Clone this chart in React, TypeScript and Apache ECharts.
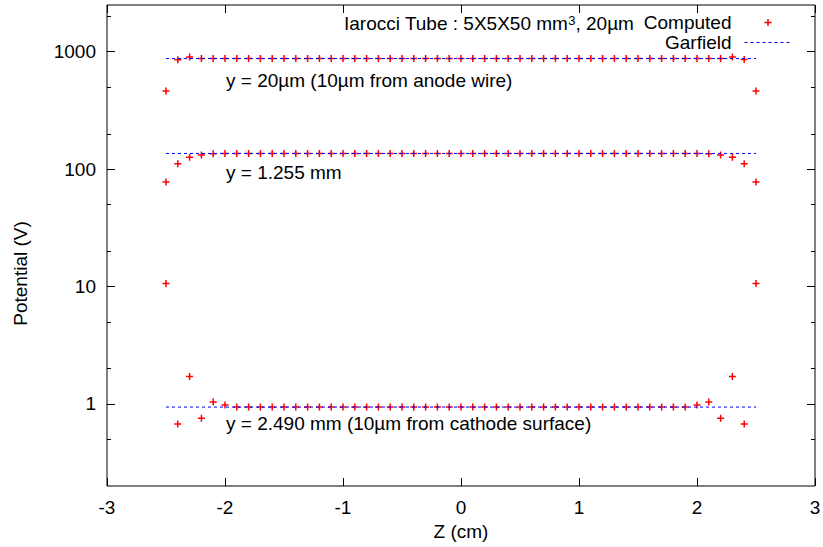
import React, { useEffect, useRef } from "react";
import * as echarts from "echarts";

// Z positions (cm) of the computed points
const zValues = [
  -2.5, -2.4, -2.3, -2.2, -2.1, -2.0, -1.9, -1.8, -1.7, -1.6, -1.5, -1.4, -1.3,
  -1.2, -1.1, -1.0, -0.9, -0.8, -0.7, -0.6, -0.5, -0.4, -0.3, -0.2, -0.1, 0.0,
  0.1, 0.2, 0.3, 0.4, 0.5, 0.6, 0.7, 0.8, 0.9, 1.0, 1.1, 1.2, 1.3, 1.4, 1.5,
  1.6, 1.7, 1.8, 1.9, 2.0, 2.1, 2.2, 2.3, 2.4, 2.5,
];

// Computed potential (V) at y = 20 µm
const computedAnode = [
  463, 855, 900, 875, 875, 875, 875, 875, 875, 875, 875, 875, 875,
  875, 875, 875, 875, 875, 875, 875, 875, 875, 875, 875, 875, 875,
  875, 875, 875, 875, 875, 875, 875, 875, 875, 875, 875, 875, 875, 875, 875,
  875, 875, 875, 875, 875, 875, 875, 900, 858, 463,
];

// Computed potential (V) at y = 1.255 mm
const computedMiddle = [
  77.5, 111, 126, 132, 135, 136, 136, 136, 136, 136, 136, 136, 136,
  136, 136, 136, 136, 136, 136, 136, 136, 136, 136, 136, 136, 136,
  136, 136, 136, 136, 136, 136, 136, 136, 136, 136, 136, 136, 136, 136, 136,
  136, 136, 136, 136, 136, 135, 132, 126, 111, 77.5,
];

// Computed potential (V) at y = 2.490 mm
const computedCathode = [
  10.6, 0.676, 1.71, 0.757, 1.04, 0.98, 0.94, 0.94, 0.94, 0.94, 0.94, 0.94, 0.94,
  0.94, 0.94, 0.94, 0.94, 0.94, 0.94, 0.94, 0.94, 0.94, 0.94, 0.94, 0.94, 0.94,
  0.94, 0.94, 0.94, 0.94, 0.94, 0.94, 0.94, 0.94, 0.94, 0.94, 0.94, 0.94, 0.94, 0.94, 0.94,
  0.94, 0.94, 0.94, 0.94, 0.98, 1.04, 0.757, 1.71, 0.676, 10.6,
];

// Garfield reference lines
const garfieldZ = [-2.5, 2.5];
const garfieldAnode = [875, 875];
const garfieldMiddle = [136, 136];
const garfieldCathode = [0.94, 0.94];

// Axis ticks
const xTickValues = [-3, -2, -1, 0, 1, 2, 3];
const yMajorTicks = [1, 10, 100, 1000];
const yMinorTicks = [0.5, 2, 5, 20, 50, 200, 500, 2000];

const FONT = '"Liberation Sans", Arial, Helvetica, sans-serif';
const FS = 19;
const PLUS = "path://M2.75,0 h1.5 v7 h-1.5 Z M0,2.75 h7 v1.5 h-7 Z";

const pairs = (xs: number[], ys: number[]) => xs.map((x, i) => [x, ys[i]]);

export default function App() {
  const ref = useRef<HTMLDivElement>(null);
  useEffect(() => {
    const chart = echarts.init(ref.current!, null, { renderer: "svg" });

    const tickColor = "#000";
    const noLine = { show: false, onZero: false };
    const yBase = {
      type: "log" as const,
      logBase: 10,
      min: 0.2,
      max: 2500,
      splitLine: { show: false },
      axisLine: noLine,
    };

    const option: any = {
      animation: false,
      backgroundColor: "#fff",
      textStyle: { fontFamily: FONT },
      grid: {
        left: 107,
        right: 8,
        top: 5,
        bottom: 61,
        show: true,
        borderColor: "#000",
        borderWidth: 1,
        containLabel: false,
        outerBoundsMode: "none",
      },
      legend: {
        orient: "vertical",
        align: "right",
        right: 31,
        top: 13,
        padding: 0,
        itemWidth: 47,
        itemHeight: 7,
        itemGap: 1,
        selectedMode: false,
        textStyle: {
          fontFamily: FONT,
          fontSize: FS,
          color: "#000",
          padding: [0, 8, 0, 0],
        },
        data: [
          { name: "Computed" },
          {
            name: "Garfield",
            itemStyle: { opacity: 0 },
            lineStyle: { color: "#0000ff", width: 1, type: [3, 3] },
          },
        ],
      },
      graphic: [
        {
          type: "text",
          x: 344,
          y: 23,
          style: {
            text: "Iarocci Tube : 5X5X50 mm{sup|3}, 20µm",
            font: `${FS}px ${FONT}`,
            fill: "#000",
            verticalAlign: "middle",
            rich: {
              sup: { fontSize: 13, fontFamily: FONT, verticalAlign: "top", lineHeight: 12, fill: "#000" },
            },
          },
        },
        {
          type: "text",
          x: 226,
          y: 80,
          style: {
            text: "y = 20µm (10µm from anode wire)",
            font: `${FS}px ${FONT}`,
            fill: "#000",
            verticalAlign: "middle",
          },
        },
        {
          type: "text",
          x: 226,
          y: 172,
          style: {
            text: "y = 1.255 mm",
            font: `${FS}px ${FONT}`,
            fill: "#000",
            verticalAlign: "middle",
          },
        },
        {
          type: "text",
          x: 226,
          y: 423,
          style: {
            text: "y = 2.490 mm (10µm from cathode surface)",
            font: `${FS}px ${FONT}`,
            fill: "#000",
            verticalAlign: "middle",
          },
        },
      ],
      xAxis: [
        {
          type: "value",
          min: -3,
          max: 3,
          interval: 1,
          position: "bottom",
          name: "Z (cm)",
          nameLocation: "middle",
          nameGap: 36,
          nameTextStyle: { fontFamily: FONT, fontSize: FS, color: "#000" },
          axisLine: noLine,
          splitLine: { show: false },
          axisTick: { inside: true, length: 8, lineStyle: { color: tickColor }, customValues: xTickValues },
          axisLabel: {
            margin: 12,
            fontFamily: FONT,
            fontSize: FS,
            color: "#000",
            customValues: xTickValues,
            formatter: (v: number) => String(v),
          },
        },
        {
          type: "value",
          min: -3,
          max: 3,
          interval: 1,
          position: "top",
          axisLine: noLine,
          splitLine: { show: false },
          axisTick: { inside: true, length: 8, lineStyle: { color: tickColor }, customValues: xTickValues },
          axisLabel: { show: false },
        },
      ],
      yAxis: [
        {
          ...yBase,
          position: "left",
          name: "Potential (V)",
          nameLocation: "middle",
          nameGap: 77,
          nameTextStyle: { fontFamily: FONT, fontSize: FS, color: "#000", padding: [0, 56, 0, 0] },
          axisTick: { inside: true, length: 8, lineStyle: { color: tickColor }, customValues: yMajorTicks },
          axisLabel: {
            margin: 11,
            fontFamily: FONT,
            fontSize: FS,
            color: "#000",
            customValues: yMajorTicks,
            formatter: (v: number) => String(Number(v.toPrecision(6))),
          },
        },
        {
          ...yBase,
          position: "left",
          axisTick: { inside: true, length: 4, lineStyle: { color: tickColor }, customValues: yMinorTicks },
          axisLabel: { show: false },
        },
        {
          ...yBase,
          position: "right",
          axisTick: { inside: true, length: 8, lineStyle: { color: tickColor }, customValues: yMajorTicks },
          axisLabel: { show: false },
        },
        {
          ...yBase,
          position: "right",
          axisTick: { inside: true, length: 4, lineStyle: { color: tickColor }, customValues: yMinorTicks },
          axisLabel: { show: false },
        },
      ],
      series: [
        ...[computedAnode, computedMiddle, computedCathode].map((ys) => ({
          type: "scatter",
          name: "Computed",
          xAxisIndex: 0,
          yAxisIndex: 0,
          symbol: PLUS,
          symbolSize: 7,
          itemStyle: { color: "#ff0000", opacity: 1 },
          data: pairs(zValues, ys),
        })),
        ...[garfieldAnode, garfieldMiddle, garfieldCathode].map((ys) => ({
          type: "line",
          name: "Garfield",
          xAxisIndex: 0,
          yAxisIndex: 0,
          symbol: "none",
          showSymbol: false,
          z: 3,
          lineStyle: { color: "#0000ff", width: 1, type: [3, 3] },
          itemStyle: { color: "#0000ff" },
          data: pairs(garfieldZ, ys),
        })),
      ],
    };

    chart.setOption(option);
    return () => chart.dispose();
  }, []);

  return (
    <div
      ref={ref}
      style={{ position: "absolute", left: 0, top: 0, width: 823, height: 547, background: "#fff" }}
    />
  );
}
